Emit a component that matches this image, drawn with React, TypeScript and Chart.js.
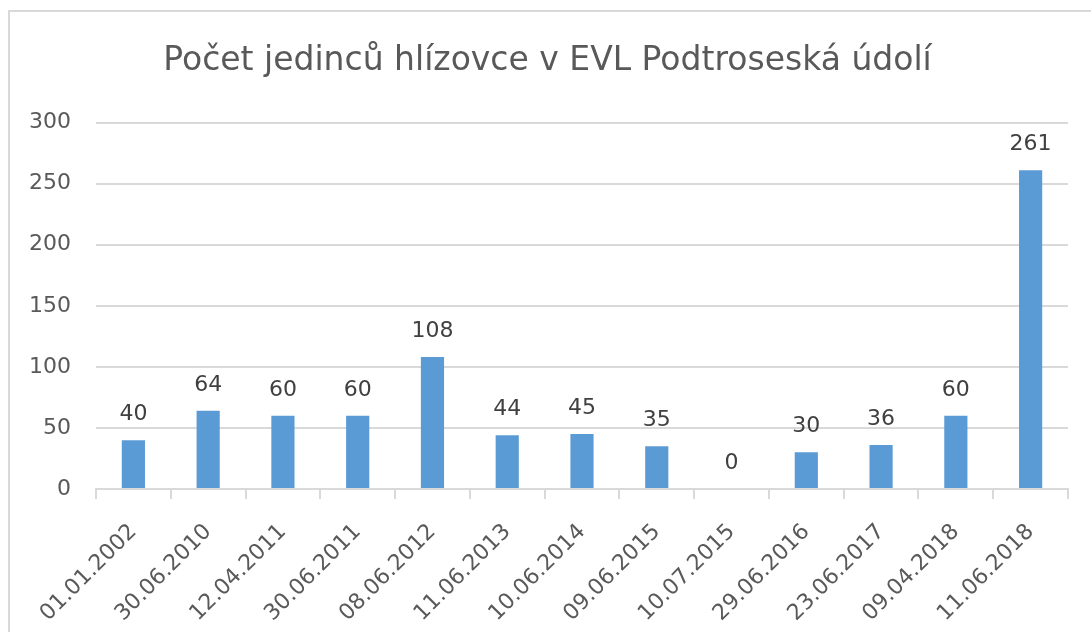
import React, { useEffect, useRef } from "react";
import { Chart, registerables } from "chart.js";

Chart.register(...registerables);

const titleText = "Počet jedinců hlízovce v EVL Podtroseská údolí";
const categories = [
  "01.01.2002",
  "30.06.2010",
  "12.04.2011",
  "30.06.2011",
  "08.06.2012",
  "11.06.2013",
  "10.06.2014",
  "09.06.2015",
  "10.07.2015",
  "29.06.2016",
  "23.06.2017",
  "09.04.2018",
  "11.06.2018",
];
const counts = [40, 64, 60, 60, 108, 44, 45, 35, 0, 30, 36, 60, 261];
const yTicks = [0, 50, 100, 150, 200, 250, 300];

const FONT = "'DejaVu Sans', 'Liberation Sans', sans-serif";

const dataLabelPlugin = {
  id: "dataLabels",
  afterDatasetsDraw(chart: any) {
    const ctx = chart.ctx;
    const meta = chart.getDatasetMeta(0);
    ctx.save();
    ctx.font = `22px ${FONT}`;
    ctx.fillStyle = "#404040";
    ctx.textAlign = "center";
    ctx.textBaseline = "alphabetic";
    meta.data.forEach((bar: any, i: number) => {
      ctx.fillText(String(counts[i]), bar.x, bar.y - 20);
    });
    ctx.restore();
  },
};

export default function App() {
  const ref = useRef<HTMLCanvasElement | null>(null);

  useEffect(() => {
    if (!ref.current) return;
    const chart = new Chart(ref.current, {
      type: "bar",
      data: {
        labels: categories,
        datasets: [
          {
            data: counts,
            backgroundColor: "#5b9bd5",
            borderWidth: 0,
            barPercentage: 0.62,
            categoryPercentage: 0.5,
          },
        ],
      },
      options: {
        responsive: false,
        animation: false,
        layout: { padding: { left: 27, right: 23, top: 0, bottom: 0 } },
        plugins: {
          legend: { display: false },
          tooltip: { enabled: false },
          title: {
            display: true,
            text: titleText,
            color: "#595959",
            font: { family: FONT, size: 33, weight: "normal", lineHeight: 1.2 },
            padding: { top: 42, bottom: 41 },
          },
        },
        scales: {
          x: {
            grid: {
              offset: true,
              drawOnChartArea: false,
              drawTicks: true,
              tickLength: 10,
              color: "#d9d9d9",
              lineWidth: 2,
            },
            border: { display: true, color: "#d9d9d9", width: 2 },
            ticks: {
              color: "#595959",
              font: { family: FONT, size: 22 },
              minRotation: 45,
              maxRotation: 45,
              padding: 20,
              autoSkip: false,
            },
            afterFit: (scale: any) => {
              scale.height = 143;
            },
          },
          y: {
            min: 0,
            max: 300,
            afterBuildTicks: (scale: any) => {
              scale.ticks = yTicks.map((v) => ({ value: v }));
            },
            grid: { color: "#d9d9d9", lineWidth: 2, drawTicks: false },
            border: { display: false },
            ticks: {
              color: "#595959",
              font: { family: FONT, size: 22 },
              padding: 25,
            },
            afterFit: (scale: any) => {
              scale.width = 69;
            },
          },
        },
      },
      plugins: [dataLabelPlugin],
    });
    return () => chart.destroy();
  }, []);

  return (
    <div
      style={{
        position: "absolute",
        left: 0,
        top: 0,
        width: 1091,
        height: 632,
        overflow: "hidden",
        background: "#ffffff",
      }}
    >
      <div
        style={{
          position: "absolute",
          left: 8,
          top: 10,
          width: 1200,
          height: 800,
          border: "2px solid #d9d9d9",
        }}
      />
      <canvas
        ref={ref}
        width={1091}
        height={632}
        style={{ position: "absolute", left: 0, top: 0, display: "block" }}
      />
    </div>
  );
}
